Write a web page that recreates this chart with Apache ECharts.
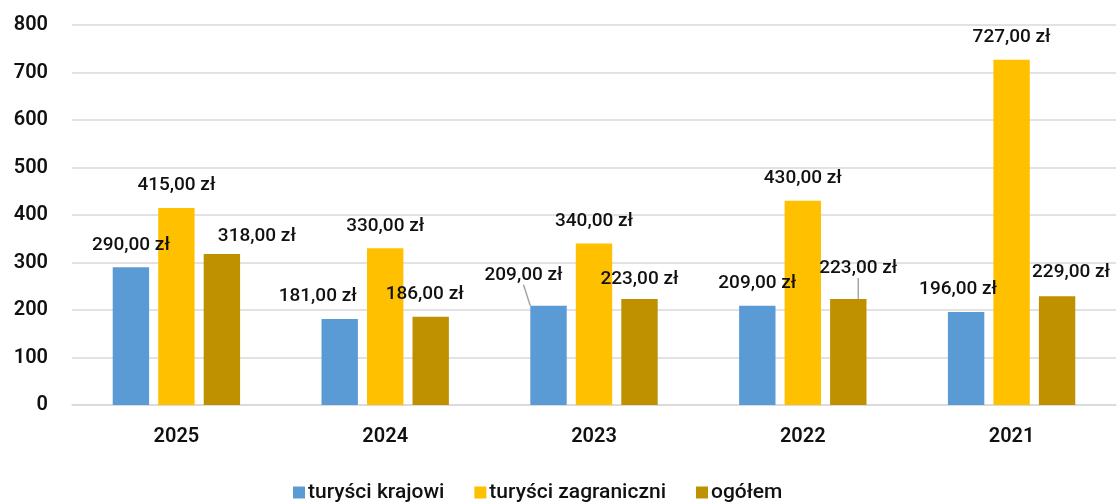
<!DOCTYPE html>
<html>
<head>
<meta charset="utf-8">
<script src="https://cdn.jsdelivr.net/npm/echarts@6/dist/echarts.min.js"></script>
<style>
  html, body { margin: 0; padding: 0; background: #fff; }
  #chart { width: 1117px; height: 502px; }
</style>
</head>
<body>
<div id="chart"></div>
<script>
// data
var years = ['2025', '2024', '2023', '2022', '2021'];
var seriesNames = ['turyści krajowi', 'turyści zagraniczni', 'ogółem'];
var domestic = [290, 181, 209, 209, 196];
var foreign = [415, 330, 340, 430, 727];
var total = [318, 186, 223, 223, 229];
var yTicks = [0, 100, 200, 300, 400, 500, 600, 700, 800];

// label nudges (like the moved labels in the original)
var labelShift = [
    [[0, 0], [-22, 0], [-25, -8], [0, 0], [-8, 0]],
    [[0, 0], [0, 0], [0, 0], [0, 0], [0, 0]],
    [[35, 5], [-6, 0], [0, 3], [10, -8], [14, -1]]
];
var leaderLines = [[2], [], [3]];

var colors = ['#5B9BD5', '#FFC000', '#BF9000'];
var font = 'Roboto, "DejaVu Sans", sans-serif';

var fmt = function (v) {
    return v.toFixed(2).replace('.', ',') + ' zł';
};

var buildSeries = function (name, values, idx) {
    return {
        name: name,
        type: 'bar',
        barGap: '25%',
        barCategoryGap: '39%',
        itemStyle: { color: colors[idx] },
        label: {
            show: true,
            position: 'top',
            distance: 13,
            color: '#111',
            fontFamily: font,
            fontSize: 19,
            fontWeight: 500,
            formatter: function (p) { return fmt(p.value); }
        },
        labelLine: {
            show: false,
            lineStyle: { color: '#A6A6A6', width: 1.5 }
        },
        data: values.map(function (v, i) {
            if (leaderLines[idx].indexOf(i) >= 0) {
                return { value: v, labelLine: { show: true } };
            }
            return v;
        })
    };
};

var chart = echarts.init(document.getElementById('chart'));
chart.setOption({
    animation: false,
    grid: { left: 72, right: 1, top: 25, bottom: 97, containLabel: false },
    legend: {
        data: seriesNames,
        bottom: -6,
        left: 288,
        itemWidth: 12,
        itemHeight: 12,
        itemGap: 30,
        icon: 'rect',
        textStyle: { fontFamily: font, fontSize: 21, fontWeight: 500, color: '#111', padding: [0, 0, 0, -2] }
    },
    xAxis: {
        type: 'category',
        data: years,
        axisTick: { show: false },
        axisLine: { lineStyle: { color: '#D9D9D9', width: 1.5 } },
        axisLabel: {
            margin: 22,
            color: '#111',
            fontFamily: font,
            fontSize: 20,
            fontWeight: 600
        }
    },
    yAxis: {
        type: 'value',
        min: yTicks[0],
        max: yTicks[yTicks.length - 1],
        interval: 100,
        axisLine: { show: false },
        axisTick: { show: false },
        splitLine: { lineStyle: { color: '#D9D9D9', width: 1.5 } },
        axisLabel: {
            margin: 24,
            color: '#111',
            fontFamily: font,
            fontSize: 20,
            fontWeight: 600
        }
    },
    labelLayout: function (params) {
        var s = labelShift[params.seriesIndex][params.dataIndex];
        return { dx: s[0], dy: s[1] };
    },
    series: [
        buildSeries(seriesNames[0], domestic, 0),
        buildSeries(seriesNames[1], foreign, 1),
        buildSeries(seriesNames[2], total, 2)
    ]
});
</script>
</body>
</html>
